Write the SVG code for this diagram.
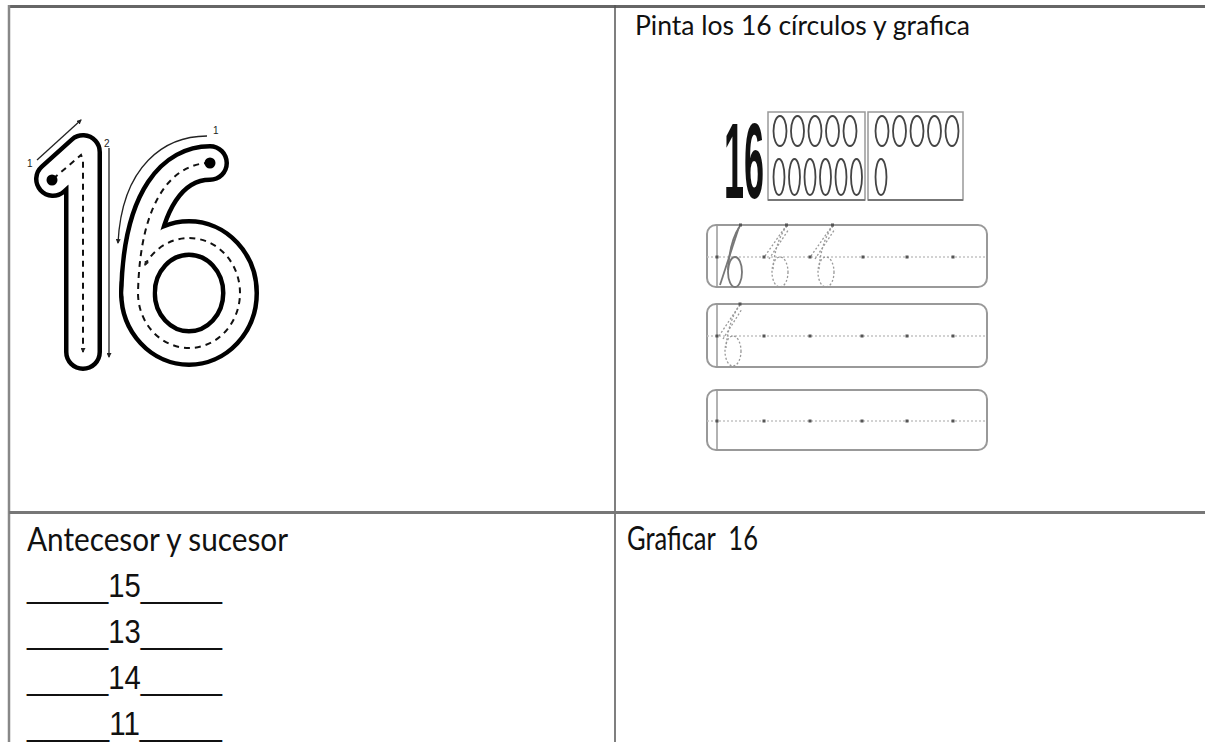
<svg xmlns="http://www.w3.org/2000/svg" width="1205" height="742" viewBox="0 0 1205 742">
<style>
.t{font-family:Lato,"Liberation Sans",sans-serif;fill:#111}
.u{font-family:"Liberation Sans",sans-serif;fill:#111}
.ob{fill:none;stroke:#000;stroke-width:38;stroke-linecap:round;stroke-linejoin:round}
.ow{fill:none;stroke:#fff;stroke-width:29;stroke-linecap:round;stroke-linejoin:round}
.dsh{fill:none;stroke:#111;stroke-width:2;stroke-dasharray:6 5}
.gd{fill:none;stroke:#222;stroke-width:1.3}
.lbl{font-family:"Liberation Sans",sans-serif;font-size:10px;fill:#222}
.strip{fill:#fff;stroke:#999;stroke-width:2}
.mid{stroke:#c4c4c4;stroke-width:1.5;stroke-dasharray:2 2}
.mrg{stroke:#999;stroke-width:1.5}
.dot{fill:#555}
.cur{fill:none;stroke:#777;stroke-width:1.8}
.cd{fill:none;stroke:#999;stroke-width:1.3;stroke-dasharray:2 2}
.ov{fill:none;stroke:#444;stroke-width:1.8}
.box{fill:none;stroke:#999;stroke-width:1.5}
</style>
<defs>
<marker id="ah" viewBox="0 0 10 10" refX="8" refY="5" markerWidth="5" markerHeight="5" orient="auto" markerUnits="userSpaceOnUse">
<path d="M0,0 L10,5 L0,10 z" fill="#222"/>
</marker>
</defs>

<g id="table">
<line x1="8" y1="6.5" x2="1205" y2="6.5" stroke="#666" stroke-width="3"/>
<line x1="9" y1="5" x2="9" y2="742" stroke="#888" stroke-width="2.5"/>
<line x1="615" y1="5" x2="615" y2="742" stroke="#555" stroke-width="1.5"/>
<line x1="9" y1="512.5" x2="1205" y2="512.5" stroke="#777" stroke-width="3"/>
</g>

<g id="big16">
<path class="ob" d="M53,179 L83,152 L83,352"/>
<path class="ob" d="M210,163 C176,163 140,195 138,293"/>
<ellipse class="ob" cx="189" cy="293" rx="51" ry="55"/>
<path class="ow" d="M53,179 L83,152 L83,352"/>
<path class="ow" d="M210,163 C176,163 140,195 138,293"/>
<ellipse class="ow" cx="189" cy="293" rx="51" ry="55"/>
<path class="dsh" d="M53,179 L81,155 L83,160 L83,352" marker-end="url(#ah)"/>
<path class="dsh" d="M210,163 C176,163 140,195 138,293 A51,55 0 0 0 189,348 A51,55 0 0 0 240,293 A51,55 0 0 0 189,238 A51,55 0 0 0 145,265" marker-end="url(#ah)"/>
<circle cx="52" cy="180" r="5.5" fill="#000"/>
<circle cx="210" cy="163" r="5.5" fill="#000"/>
<line class="gd" x1="37" y1="160" x2="81" y2="120" marker-end="url(#ah)"/>
<text class="lbl" x="27" y="167">1</text>
<line class="gd" x1="109" y1="148" x2="109" y2="357" marker-end="url(#ah)"/>
<text class="lbl" x="104" y="147">2</text>
<path class="gd" d="M207,136 C165,136 122,165 118,243" marker-end="url(#ah)"/>
<text class="lbl" x="213" y="134">1</text>
</g>

<g id="title">
<text class="t" x="635" y="35" font-size="27" textLength="335" lengthAdjust="spacingAndGlyphs">Pinta los 16 círculos y grafica</text>
</g>

<g id="circles">
<text x="724" y="198" font-family="'Liberation Sans',sans-serif" font-weight="bold" font-size="108" fill="#111" textLength="40" lengthAdjust="spacingAndGlyphs">16</text>
<rect class="box" x="768" y="112" width="97" height="88"/>
<rect class="box" x="868" y="112" width="95" height="88"/>
<line x1="768" y1="200" x2="865" y2="200" stroke="#777" stroke-width="2"/>
<line x1="868" y1="200" x2="963" y2="200" stroke="#777" stroke-width="2"/>
<g class="ov">
<ellipse cx="780" cy="131" rx="6.5" ry="15"/>
<ellipse cx="797.5" cy="131" rx="6.5" ry="15"/>
<ellipse cx="815" cy="131" rx="6.5" ry="15"/>
<ellipse cx="832.5" cy="131" rx="6.5" ry="15"/>
<ellipse cx="850" cy="131" rx="6.5" ry="15"/>
<ellipse cx="779" cy="177" rx="5.5" ry="18"/>
<ellipse cx="794.5" cy="177" rx="5.5" ry="18"/>
<ellipse cx="810" cy="177" rx="5.5" ry="18"/>
<ellipse cx="825.5" cy="177" rx="5.5" ry="18"/>
<ellipse cx="841" cy="177" rx="5.5" ry="18"/>
<ellipse cx="856.5" cy="177" rx="5.5" ry="18"/>
<ellipse cx="882" cy="131" rx="6.5" ry="15"/>
<ellipse cx="899.5" cy="131" rx="6.5" ry="15"/>
<ellipse cx="917" cy="131" rx="6.5" ry="15"/>
<ellipse cx="934.5" cy="131" rx="6.5" ry="15"/>
<ellipse cx="952" cy="131" rx="6.5" ry="15"/>
<ellipse cx="881" cy="177" rx="5.5" ry="18"/>
</g>
</g>

<g id="strip1">
<rect class="strip" x="707" y="225" width="280" height="62" rx="9"/>
<line class="mrg" x1="717" y1="225" x2="717" y2="287"/>
<line class="mid" x1="707" y1="257" x2="987" y2="257"/>
<line class="cur" x1="720" y1="285" x2="739" y2="227"/>
<path class="cur" d="M740,226 C733,236 729,252 728,270"/>
<ellipse class="cur" cx="735" cy="272" rx="7" ry="15"/>
<line class="cd" x1="765" y1="256" x2="786" y2="226"/>
<line class="cd" x1="769" y1="259" x2="789" y2="229"/>
<path class="cd" d="M787,226 C779,236 774,252 773,270"/>
<ellipse class="cd" cx="780" cy="272" rx="8" ry="15"/>
<line class="cd" x1="811" y1="256" x2="832" y2="226"/>
<line class="cd" x1="815" y1="259" x2="835" y2="229"/>
<path class="cd" d="M833,226 C825,236 820,252 819,270"/>
<ellipse class="cd" cx="826" cy="272" rx="8" ry="15"/>
<g class="dot">
<rect x="739" y="223.5" width="3" height="3"/>
<rect x="785" y="223.5" width="3" height="3"/>
<rect x="831" y="223.5" width="3" height="3"/>
<rect x="715.5" y="255.5" width="3" height="3"/>
<rect x="762.5" y="255.5" width="3" height="3"/>
<rect x="808.5" y="255.5" width="3" height="3"/>
<rect x="861.5" y="255.5" width="3" height="3"/>
<rect x="905.5" y="255.5" width="3" height="3"/>
<rect x="951.5" y="255.5" width="3" height="3"/>
</g>
</g>

<g id="strip2">
<rect class="strip" x="707" y="304" width="280" height="63" rx="9"/>
<line class="mrg" x1="717" y1="304" x2="717" y2="367"/>
<line class="mid" x1="707" y1="336" x2="987" y2="336"/>
<line class="cd" x1="719" y1="336" x2="739" y2="306"/>
<line class="cd" x1="723" y1="339" x2="742" y2="309"/>
<path class="cd" d="M740,305 C732,315 727,332 726,348"/>
<ellipse class="cd" cx="733" cy="351" rx="8" ry="15"/>
<g class="dot">
<rect x="738.5" y="302.5" width="3" height="3"/>
<rect x="715.5" y="334.5" width="3" height="3"/>
<rect x="762.5" y="334.5" width="3" height="3"/>
<rect x="808.5" y="334.5" width="3" height="3"/>
<rect x="860.5" y="334.5" width="3" height="3"/>
<rect x="905.5" y="334.5" width="3" height="3"/>
<rect x="951.5" y="334.5" width="3" height="3"/>
</g>
</g>

<g id="strip3">
<rect class="strip" x="707" y="390" width="280" height="60" rx="9"/>
<line class="mrg" x1="717" y1="390" x2="717" y2="450"/>
<line class="mid" x1="707" y1="421" x2="987" y2="421"/>
<g class="dot">
<rect x="715.5" y="419.5" width="3" height="3"/>
<rect x="762.5" y="419.5" width="3" height="3"/>
<rect x="808.5" y="419.5" width="3" height="3"/>
<rect x="860.5" y="419.5" width="3" height="3"/>
<rect x="905.5" y="419.5" width="3" height="3"/>
<rect x="951.5" y="419.5" width="3" height="3"/>
</g>
</g>

<g id="antecesor">
<text class="t" x="27" y="551" font-size="33" textLength="261" lengthAdjust="spacingAndGlyphs">Antecesor y sucesor</text>
<text class="u" x="27" y="597" font-size="33" textLength="195" lengthAdjust="spacingAndGlyphs">_____15_____</text>
<text class="u" x="27" y="643" font-size="33" textLength="195" lengthAdjust="spacingAndGlyphs">_____13_____</text>
<text class="u" x="27" y="689" font-size="33" textLength="195" lengthAdjust="spacingAndGlyphs">_____14_____</text>
<text class="u" x="27" y="735" font-size="33" textLength="195" lengthAdjust="spacingAndGlyphs">_____11_____</text>
</g>

<g id="graficar">
<text class="t" x="627" y="550" font-size="33" textLength="131" lengthAdjust="spacingAndGlyphs" xml:space="preserve">Graficar  16</text>
</g>
</svg>
